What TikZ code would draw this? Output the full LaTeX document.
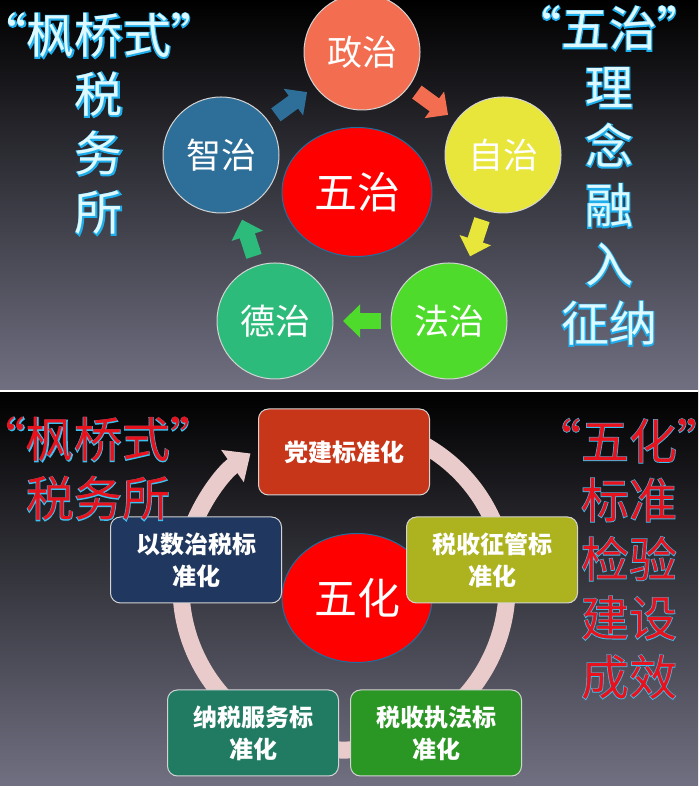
\documentclass[tikz,border=0pt]{standalone}
\usepackage{fontspec}
\usepackage{xcolor}
\usetikzlibrary{arrows.meta,shapes.geometric}
\setmainfont{Noto Sans CJK SC}
\newfontfamily\glowfont{Noto Sans CJK SC}[FakeBold=5]
\newfontfamily\rimfont{Noto Sans CJK SC}[FakeBold=2.6]
\definecolor{panelgray}{HTML}{707082}
\definecolor{rimgray}{HTML}{D4D4D4}
\definecolor{hexinrim}{HTML}{1F6E9E}
\definecolor{zhengc}{HTML}{F36E50}
\definecolor{zizhic}{HTML}{E8E63A}
\definecolor{fazhic}{HTML}{4EDB2B}
\definecolor{dezhic}{HTML}{2DBB7B}
\definecolor{zhizhic}{HTML}{2E6F99}
\definecolor{guangfill}{HTML}{DDF9FF}
\definecolor{glowblue}{HTML}{1FAEEC}
\definecolor{hongfill}{HTML}{E8121C}
\definecolor{hongrim}{HTML}{3CC2F2}
\definecolor{ringc}{HTML}{EACBCB}
\definecolor{dangc}{HTML}{C8361A}
\definecolor{shuzic}{HTML}{20375F}
\definecolor{zhengguanc}{HTML}{ADB21F}
\definecolor{fuwuc}{HTML}{207B62}
\definecolor{zhifac}{HTML}{2A9623}
\newcommand{\gl}[1]{\rlap{\color{glowblue}\glowfont #1}#1}
\newcommand{\hl}[1]{\rlap{\color{hongrim}\rimfont #1}#1}

\begin{document}
\begin{tikzpicture}[x=1pt,y=1pt,
  yuan/.style={circle,draw=rimgray,line width=1pt,minimum size=116pt,inner sep=0pt,text=white,font=\fontsize{35}{35}\selectfont},
  hexin/.style={ellipse,draw=hexinrim,line width=1pt,fill=red,minimum width=150pt,minimum height=129pt,inner sep=0pt,text=white,font=\fontsize{43}{43}\selectfont},
  jt/.style={line width=16pt,-{Triangle[width=32pt,length=17pt]},shorten <=9.5pt,shorten >=9.5pt},
  kuang/.style={draw=rimgray,line width=1pt,rounded corners=10pt,minimum width=171pt,minimum height=86pt,inner sep=2pt,align=center,text=white,font=\bfseries\fontsize{24}{32}\selectfont},
  guang/.style={align=center,text=guangfill,font=\fontsize{48}{59}\selectfont},
  hong/.style={align=center,text=hongfill,font=\fontsize{48}{59}\selectfont}
]
\useasboundingbox (0,0) rectangle (698,786);
\shade[top color=black,bottom color=panelgray] (0,395.5) rectangle (698,786);
\shade[top color=black,bottom color=panelgray] (0,0) rectangle (698,394);
\fill[white] (0,394) rectangle (698,395.5);

\node[yuan,fill=zhengc] (zheng) at (362,734) {政治};
\node[yuan,fill=zizhic] (zi) at (503,631) {自治};
\node[yuan,fill=fazhic] (fa) at (449,465) {法治};
\node[yuan,fill=dezhic] (de) at (275,465) {德治};
\node[yuan,fill=zhizhic] (zhi) at (221,631) {智治};
\node[hexin] (wuzhi) at (357,594) {五治};
\draw[jt,zhizhic] (zhi) -- (zheng);
\draw[jt,zhengc] (zheng) -- (zi);
\draw[jt,zizhic] (zi) -- (fa);
\draw[jt,fazhic] (fa) -- (de);
\draw[jt,dezhic] (de) -- (zhi);
\node[guang] (fqs) at (99,662) {\gl{“枫桥式”}\\\gl{税}\\\gl{务}\\\gl{所}};
\node[guang] (linian) at (609,610) {\gl{“五治”}\\\gl{理}\\\gl{念}\\\gl{融}\\\gl{入}\\\gl{征纳}};

\coordinate (quan) at (344,199);
\draw[line width=17pt,ringc,-{Triangle[width=38pt,length=22pt]}] ([shift={(70:163pt)}]quan) arc[start angle=70,end angle=-235,radius=163pt];
\node[hexin] (wuhua) at (357,188) {五化};
\node[kuang,fill=dangc] (dang) at (344,334) {党建标准化};
\node[kuang,fill=shuzic] (shuzi) at (196,226) {以数治税标\\准化};
\node[kuang,fill=zhengguanc] (zhengguan) at (492,226) {税收征管标\\准化};
\node[kuang,fill=fuwuc] (fuwu) at (253,53) {纳税服务标\\准化};
\node[kuang,fill=zhifac] (zhifa) at (436,53) {税收执法标\\准化};
\node[hong] (fqs2) at (98,317) {\hl{“枫桥式”}\\\hl{税务所}};
\node[hong] (chengxiao) at (629,227) {\hl{“五化”}\\\hl{标准}\\\hl{检验}\\\hl{建设}\\\hl{成效}};
\end{tikzpicture}
\end{document}
